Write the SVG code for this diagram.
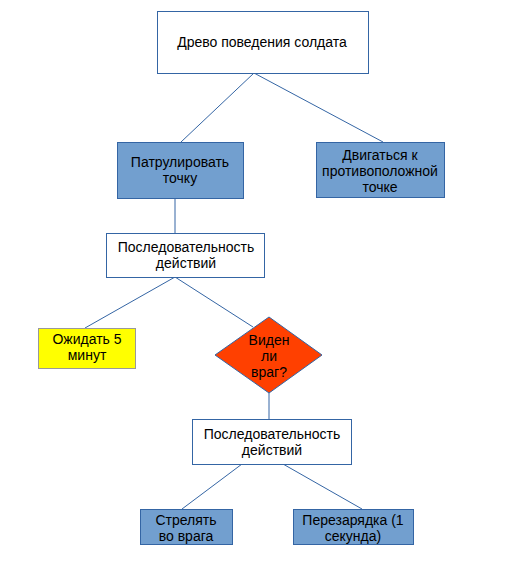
<svg xmlns="http://www.w3.org/2000/svg" width="531" height="580" viewBox="0 0 531 580">
<style>
text{font-family:"Liberation Sans",Arial,sans-serif;font-size:14px;fill:#000;text-anchor:middle}
.w{fill:#fff;stroke:#3465a4;stroke-width:1}
.b{fill:#729fcf;stroke:#3465a4;stroke-width:1}
.y{fill:#ffff00;stroke:#999999;stroke-width:1}
.r{fill:#ff4000;stroke:#3465a4;stroke-width:1}
.c line{stroke:#3465a4;stroke-width:1}
</style>
<rect width="531" height="580" fill="#fff"/>
<g class="c" id="connectors">
<line x1="254" y1="73" x2="181" y2="142"/>
<line x1="254" y1="73" x2="383" y2="142"/>
<line x1="175" y1="198" x2="175" y2="233"/>
<line x1="175" y1="277" x2="85" y2="328"/>
<line x1="175" y1="277" x2="253" y2="327"/>
<line x1="269" y1="393" x2="269" y2="419"/>
<line x1="242" y1="464" x2="182" y2="509"/>
<line x1="283" y1="464" x2="362" y2="509"/>
</g>
<g id="root"><rect class="w" x="157.5" y="11.5" width="211" height="62"/><text x="262" y="47">Древо поведения солдата</text></g>
<g id="patrol"><rect class="b" x="117.5" y="142.5" width="126" height="56"/><text x="180" y="167">Патрулировать</text><text x="180" y="183">точку</text></g>
<g id="move"><rect class="b" x="316.5" y="142.5" width="128" height="55"/><text x="380" y="160">Двигаться к</text><text x="380" y="176">противоположной</text><text x="380" y="192">точке</text></g>
<g id="seq1"><rect class="w" x="106.5" y="233.5" width="158" height="44"/><text x="186" y="252">Последовательность</text><text x="186" y="268">действий</text></g>
<g id="wait"><rect class="y" x="38.5" y="328.5" width="97" height="40"/><text x="87" y="344">Ожидать 5</text><text x="87" y="360">минут</text></g>
<g id="enemy"><polygon class="r" points="269,317 322,355 269,393 215,355"/><text x="269" y="345">Виден</text><text x="269" y="361">ли</text><text x="269" y="377">враг?</text></g>
<g id="seq2"><rect class="w" x="192.5" y="419.5" width="159" height="45"/><text x="272" y="439">Последовательность</text><text x="272" y="455">действий</text></g>
<g id="shoot"><rect class="b" x="140.5" y="509.5" width="92" height="35"/><text x="186" y="525">Стрелять</text><text x="186" y="541">во врага</text></g>
<g id="reload"><rect class="b" x="293.5" y="509.5" width="120" height="35"/><text x="353" y="525">Перезарядка (1</text><text x="353" y="541">секунда)</text></g>
</svg>
